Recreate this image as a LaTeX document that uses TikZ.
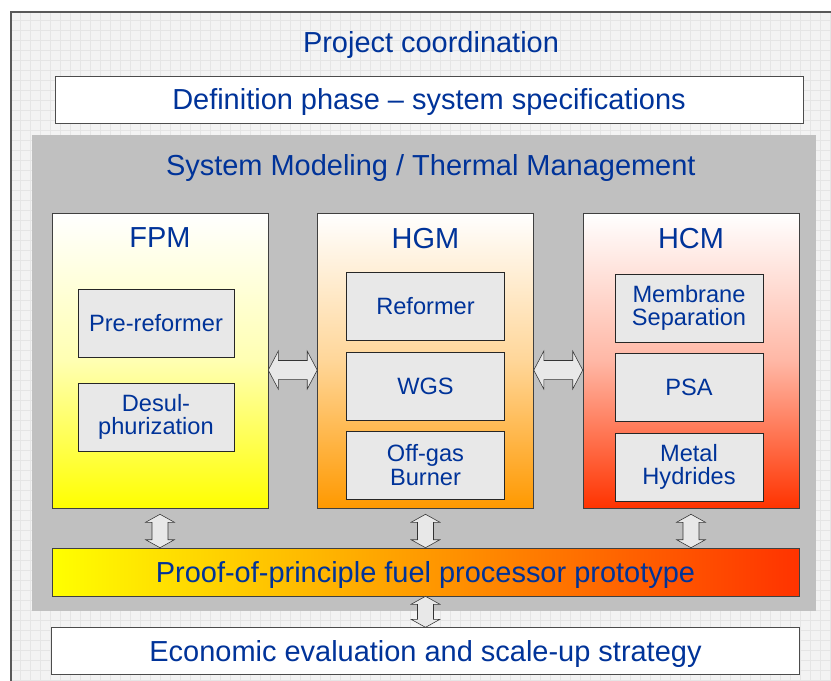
\documentclass[tikz,border=0pt]{standalone}
\usepackage{fontspec}
\setmainfont{Liberation Sans}
\usepackage{tikz}
\usetikzlibrary{calc,positioning,shadings}
\definecolor{T}{RGB}{0,51,153}
\definecolor{Y}{RGB}{255,255,0}
\definecolor{O}{RGB}{255,153,0}
\definecolor{R}{RGB}{255,51,0}
\definecolor{P}{RGB}{192,192,192}
\definecolor{U}{RGB}{232,232,232}
\definecolor{F}{RGB}{243,243,243}
\definecolor{W}{RGB}{229,229,229}
\tikzset{
  dblarrow/.style n args={3}{draw=black!80, fill=U, line join=miter,
    to path={let \p1=(\tikztostart), \p2=(\tikztotarget), \n1={atan2(\y2-\y1,\x2-\x1)} in
      (\p1) -- ($(\p1)+(\n1:#1)+(\n1+90:#2)$) -- ($(\p1)+(\n1:#1)+(\n1+90:#3)$)
      -- ($(\p2)+(\n1+180:#1)+(\n1+90:#3)$) -- ($(\p2)+(\n1+180:#1)+(\n1+90:#2)$)
      -- (\p2) -- ($(\p2)+(\n1+180:#1)+(\n1-90:#2)$) -- ($(\p2)+(\n1+180:#1)+(\n1-90:#3)$)
      -- ($(\p1)+(\n1:#1)+(\n1-90:#3)$) -- ($(\p1)+(\n1:#1)+(\n1-90:#2)$) -- cycle}}
}
\tikzstyle{heading} = [text=T, text depth=0pt, font=\fontsize{20.6}{24}\selectfont]
\tikzstyle{plain} = [
rectangle,
minimum width=18.7cm,
minimum height=1.17cm,
draw=black!70,
fill=white,
heading
]
\tikzstyle{panel} = [rectangle, fill=P, minimum width=19.6cm, minimum height=11.9cm]
\tikzstyle{module} = [
rectangle,
minimum width=5.4cm,
minimum height=7.375cm,
draw=black!75
]
\tikzstyle{unit} = [
rectangle,
minimum width=3.9cm,
minimum height=1.7cm,
align=center,
draw=black!85,
fill=U,
text=T,
font=\fontsize{16.8}{16.5}\selectfont
]
\tikzstyle{unit2} = [unit, minimum width=3.7cm]
\tikzstyle{bar} = [rectangle, minimum width=18.675cm, minimum height=1.2cm, draw=black!75,
left color=Y, right color=R, middle color=O, heading]
\tikzstyle{harrow} = [dblarrow={0.25cm}{0.475cm}{0.24cm}]
\tikzstyle{varrow} = [dblarrow={0.2cm}{0.36cm}{0.2cm}]

\begin{document}
\begin{tikzpicture}[node distance=6.6375cm]
      \clip (0,0) rectangle (20.775,-17.025);
      % grid sheet behind everything
      \fill [F] (0.275,-0.3) rectangle (21,-17.3);
      \draw [step=0.25cm, W, line width=0.4pt] (0.275,-0.3) grid (21,-17.3);
      \draw [black!65, line width=1.2pt] (0.275,-17.3) -- (0.275,-0.3) -- (21,-0.3);
      \node (coord) [heading] at (10.775,-1.05) {Project coordination};
      \node (defn) [plain] at (10.725,-2.4875) {Definition phase -- system specifications};
      \node (sysmod) [panel] at (10.6,-9.325) {};
      \node (smtitle) [heading, above of=sysmod, node distance=5.2cm, xshift=0.17cm] {System Modeling / Thermal Management};
      % the three modules
      \node (hgm) [module, top color=white, bottom color=O, middle color=O!40] at (10.6375,-9.0125) {};
      \node (fpm) [module, top color=white, bottom color=Y, middle color=Y!30, left of=hgm] {};
      \node (hcm) [module, top color=white, bottom color=R, middle color=R!35, right of=hgm] {};
      \node (fpmtitle) [heading, above of=fpm, yshift=-3.575cm] {FPM};
      \node (hgmtitle) [heading, above of=hgm, yshift=-3.575cm] {HGM};
      \node (hcmtitle) [heading, above of=hcm, yshift=-3.575cm] {HCM};
      \node (prerefm) [unit, above of=fpm, xshift=-0.1cm, yshift=-5.7cm] {Pre-reformer};
      \node (desulf) [unit, below of=prerefm, node distance=2.35cm] {Desul-\\phurization};
      \node (reformer) [unit, minimum width=3.95cm, above of=hgm, yshift=-5.275cm] {Reformer};
      \node (wgs) [unit, minimum width=3.95cm, below of=reformer, node distance=2cm] {WGS};
      \node (burner) [unit, minimum width=3.95cm, below of=wgs, node distance=1.975cm] {Off-gas\\Burner};
      \node (membrane) [unit2, above of=hcm, xshift=-0.05cm, yshift=-5.325cm] {Membrane\\Separation};
      \node (psa) [unit2, below of=membrane, node distance=1.975cm] {PSA};
      \node (hydrides) [unit2, below of=psa, node distance=2cm] {Metal\\Hydrides};
      \node (proto) [bar, below of=hgm, node distance=5.2875cm] {Proof-of-principle fuel processor prototype};
      \node (econ) [plain, below of=proto, node distance=1.975cm] {Economic evaluation and scale-up strategy};
      \draw [harrow] ($(fpm.east)+(0,-0.24)$) to ($(hgm.west)+(0,-0.24)$);
      \draw [harrow] ($(hgm.east)+(0,-0.24)$) to ($(hcm.west)+(0,-0.24)$);
      \draw [varrow] ($(fpm.south)+(0,-0.15)$) to (fpm.south |- proto.north);
      \draw [varrow] ($(hgm.south)+(0,-0.15)$) to (hgm.south |- proto.north);
      \draw [varrow] ($(hcm.south)+(0,-0.15)$) to (hcm.south |- proto.north);
      \draw [varrow] (proto.south) to (proto.south |- econ.north);
      \end{tikzpicture}
\end{document}
